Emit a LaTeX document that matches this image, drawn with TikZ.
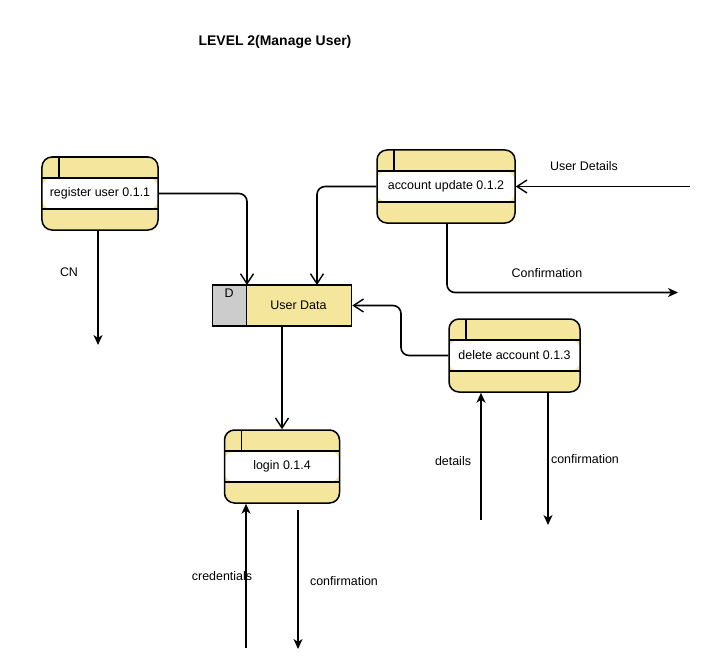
\documentclass[tikz,border=0pt]{standalone}
\usepackage{fontspec}
\setmainfont{Liberation Sans}
\usetikzlibrary{arrows.meta}
\definecolor{procfill}{RGB}{244,231,157}
\definecolor{storegray}{RGB}{204,204,204}
\tikzset{
  proc/.style={draw, line width=1.5bp, rounded corners=10bp, fill=procfill,
    inner sep=0pt, minimum height=73bp, font=\fontsize{12.5}{14}\selectfont,
    path picture={
      \fill[white] ([yshift=15.5bp]path picture bounding box.west) rectangle ([yshift=-15.5bp]path picture bounding box.east);
      \draw[line width=1.5bp] ([yshift=15.5bp]path picture bounding box.west) -- ([yshift=15.5bp]path picture bounding box.east);
      \draw[line width=1.5bp] ([yshift=-15.5bp]path picture bounding box.west) -- ([yshift=-15.5bp]path picture bounding box.east);
      \draw[line width=1.5bp] ([xshift=17bp]path picture bounding box.north west) -- ([xshift=17bp,yshift=15.5bp]path picture bounding box.west);
    }},
  datastore/.style={draw, line width=1.5bp, fill=procfill, minimum width=139bp,
    minimum height=41bp, inner sep=0pt, font=\fontsize{12.5}{14}\selectfont,
    path picture={
      \fill[storegray] (path picture bounding box.north west) rectangle ([xshift=34bp]path picture bounding box.south west);
      \draw[line width=1.5bp] ([xshift=34bp]path picture bounding box.north west) -- ([xshift=34bp]path picture bounding box.south west);
    }},
  flow/.style={line width=1.6bp, rounded corners=8bp},
  openarr/.style={flow, -{Straight Barb[length=10bp,width=13bp,line width=1.4bp]}},
  fillarr/.style={flow, -{Stealth[length=10bp,width=9bp,inset=3bp]}},
  lbl/.style={font=\fontsize{12.5}{14}\selectfont, inner sep=1pt},
}
\begin{document}
\begin{tikzpicture}[x=1bp,y=-1bp]
\useasboundingbox (0,0) rectangle (706,668);

\node[font=\bfseries\fontsize{14}{16}\selectfont] (title) at (275,42) {LEVEL 2(Manage User)};

\node[proc, minimum width=116bp] (reg) at (100,193.5) {register user 0.1.1};
\node[proc, minimum width=138bp] (acc) at (446,186.5) {account update 0.1.2};
\node[proc, minimum width=131bp] (del) at (514.5,355.5) {delete account 0.1.3};
\node[proc, minimum width=115bp] (log) at (282,466.5) {login 0.1.4};
\node[datastore] (ud) at (282,305.5) {};
\node[font=\fontsize{12.5}{14}\selectfont] (udD) at (229,293) {D};
\node[font=\fontsize{12.5}{14}\selectfont] (udT) at (298.5,305.5) {User Data};

% coordinates for free ends
\coordinate (udIn1) at (247,285);
\coordinate (udIn2) at (317,285);
\coordinate (cnEnd) at (98,345);
\coordinate (udStart) at (98,230);
\coordinate (usrIn) at (690,186.5);
\coordinate (accOut) at (447,223);
\coordinate (confEnd) at (678,292.5);
\coordinate (delBend) at (401,355.5);
\coordinate (detStart) at (481,520);
\coordinate (delOutS) at (548,392);
\coordinate (delOutE) at (548,525);
\coordinate (credStart) at (246,648);
\coordinate (logOutS) at (298,510);
\coordinate (logOutE) at (298,649);

% connectors
\draw[openarr] (reg.east) -| (udIn1);
\draw[openarr] (acc.west) -| (udIn2);
\draw[openarr] (usrIn) -- (acc.east);
\draw[fillarr] (accOut) |- (confEnd);
\draw[fillarr] (udStart) -- (cnEnd);
\draw[openarr] (ud.south) -- (log.north);
\draw[openarr] (del.west) -- (delBend) |- (ud.east);
\draw[fillarr] (detStart) -- (detStart |- del.south);
\draw[fillarr] (delOutS) -- (delOutE);
\draw[fillarr] (credStart) -- (credStart |- log.south);
\draw[fillarr] (logOutS) -- (logOutE);

% labels
\node[lbl] (lUD) at (584,166) {User Details};
\node[lbl] (lConf1) at (547,273) {Confirmation};
\node[lbl] (lCN) at (69,272) {CN};
\node[lbl] (lDet) at (453,461) {details};
\node[lbl] (lConf2) at (585,459) {confirmation};
\node[lbl] (lCred) at (222,576) {credentials};
\node[lbl] (lConf3) at (344,581) {confirmation};
\end{tikzpicture}
\end{document}
